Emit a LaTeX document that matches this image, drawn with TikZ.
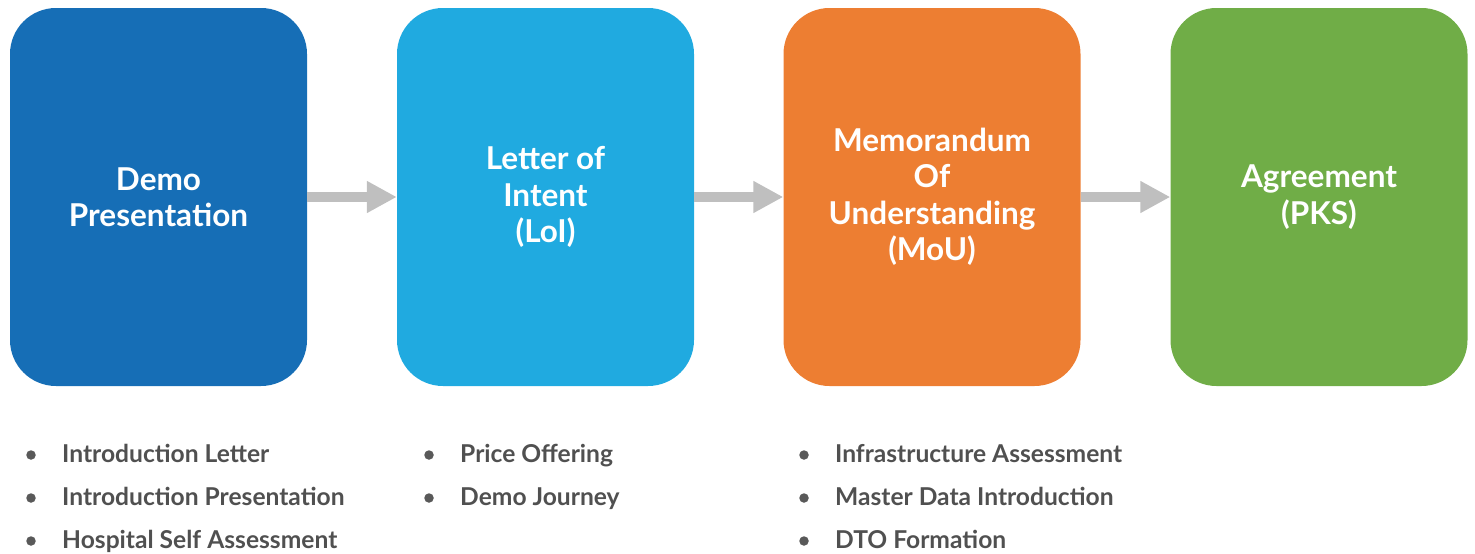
\documentclass[tikz,border=0pt]{standalone}
\usepackage{fontspec}
\setmainfont{Lato}
\usetikzlibrary{arrows.meta}
\definecolor{cA}{HTML}{166EB6}
\definecolor{cB}{HTML}{20AAE0}
\definecolor{cC}{HTML}{ED7E32}
\definecolor{cD}{HTML}{70AD47}
\definecolor{arr}{HTML}{BFBFBF}
\definecolor{txt}{HTML}{505050}
\definecolor{dot}{HTML}{595959}
\begin{document}
\begin{tikzpicture}[x=1pt,y=-1pt,
  stage/.style={rounded corners=46pt, minimum width=297pt, minimum height=378pt, inner sep=0pt,
    text=white, align=center, font=\fontsize{31.5pt}{36.5pt}\selectfont\bfseries},
  flow/.style={draw=arr, line width=10pt, -{Triangle[length=30pt,width=30pt]}},
  item/.style={anchor=base west, inner sep=0pt, text=txt, font=\fontsize{24.6pt}{28pt}\selectfont\bfseries},
  bul/.style={circle, fill=dot, inner sep=0pt, minimum size=9.5pt}]
\useasboundingbox (0,0) rectangle (1475,554);
\node[stage, fill=cA] (s1) at (158.5,197) {Demo\\Presentation};
\node[stage, fill=cB] (s2) at (545.5,197) {Letter of\\Intent\\(LoI)};
\node[stage, fill=cC] (s3) at (932,197) {Memorandum\\Of\\Understanding\\(MoU)};
\node[stage, fill=cD] (s4) at (1319,197) {Agreement\\(PKS)};
\draw[flow] (s1.east) -- (s2.west);
\draw[flow] (s2.east) -- (s3.west);
\draw[flow] (s3.east) -- (s4.west);
% column 1
\node[bul] (b11) at (31,455) {};
\node[item] (t11) at (62,462) {Introduction Letter};
\node[bul] (b12) at (31,498) {};
\node[item] (t12) at (62,505.5) {Introduction Presentation};
\node[bul] (b13) at (31,541) {};
\node[item] (t13) at (62,548) {Hospital Self Assessment};
% column 2
\node[bul] (b21) at (429,455) {};
\node[item] (t21) at (460,462) {Price Offering};
\node[bul] (b22) at (429,498) {};
\node[item] (t22) at (460,505.5) {Demo Journey};
% column 3
\node[bul] (b31) at (804,455) {};
\node[item] (t31) at (835,462) {Infrastructure Assessment};
\node[bul] (b32) at (804,498) {};
\node[item] (t32) at (835,505.5) {Master Data Introduction};
\node[bul] (b33) at (804,541) {};
\node[item] (t33) at (835,548) {DTO Formation};
\end{tikzpicture}
\end{document}
